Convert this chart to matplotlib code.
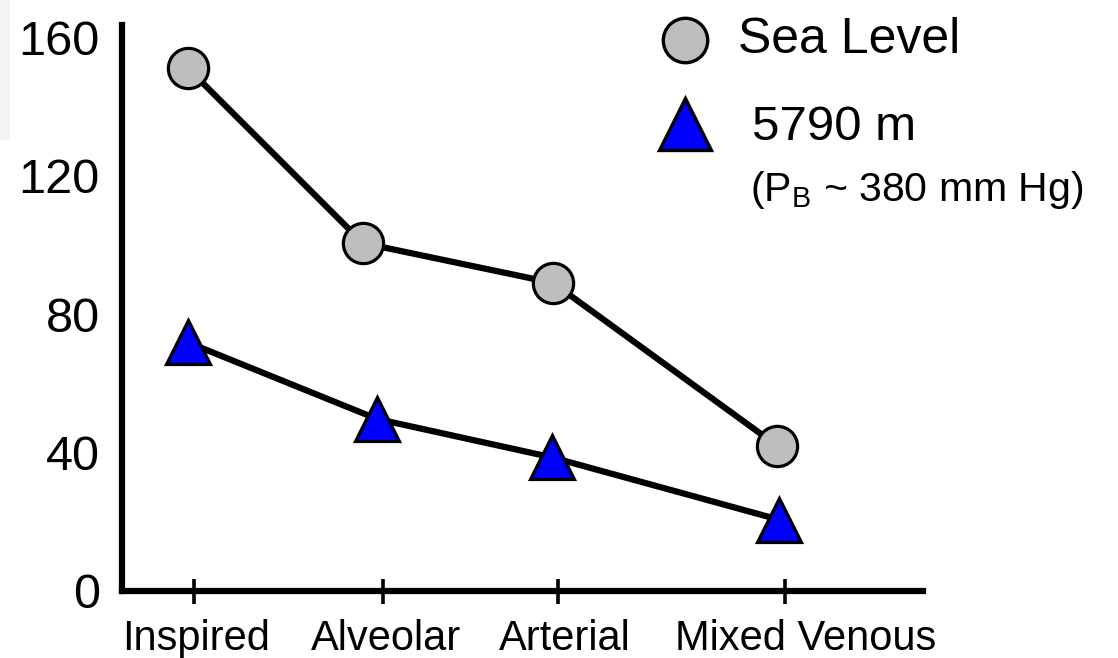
import matplotlib
matplotlib.use("Agg")
import matplotlib.pyplot as plt
import matplotlib.transforms as mtransforms
from matplotlib.lines import Line2D
from matplotlib.patches import Rectangle

# ---- data ----
categories = ["Inspired", "Alveolar", "Arterial", "Mixed Venous"]
cat_x = [0.72, 2.61, 4.36, 6.63]          # category tick positions
sea_x = [0.66, 2.41, 4.31, 6.55]
sea_level = [151, 100.5, 89, 42]
alt_x = [0.66, 2.55, 4.30, 6.57]
altitude_5790 = [71.8, 49.7, 38.6, 20.6]
y_ticks = [0, 40, 80, 120, 160]

plt.rcParams['font.family'] = ['Liberation Sans', 'DejaVu Sans']

W, H = 1118, 658
fig = plt.figure(figsize=(W / 100, H / 100), dpi=100)
ax = fig.add_axes([122 / W, 1 - 591 / H, (923 - 122) / W, (591 - 25) / H])

# faint grey artifact top-left
fig.add_artist(Rectangle((0, 1 - 140 / H), 10 / W, 140 / H, transform=fig.transFigure,
                         facecolor='#f3f3f3', edgecolor='none'))

ax.plot(sea_x, sea_level, color='black', lw=4.5, marker='o', markersize=29,
        markerfacecolor='#bebebe', markeredgecolor='black', markeredgewidth=2.3,
        clip_on=False, zorder=3)
ax.plot(alt_x, altitude_5790, color='black', lw=4.5, marker='^', markersize=31,
        markerfacecolor='#0000ff', markeredgecolor='black', markeredgewidth=2.3,
        clip_on=False, zorder=3)

ax.set_xlim(0, 8.01)
ax.set_ylim(0, 163.5)
ax.set_xticks(cat_x)
ax.set_xticklabels(categories, fontsize=30)
ax.set_yticks(y_ticks)
ax.set_yticklabels([str(v) for v in y_ticks], fontsize=35)

for s in ['top', 'right']:
    ax.spines[s].set_visible(False)
for s in ['left', 'bottom']:
    ax.spines[s].set_linewidth(4.5)
    ax.spines[s].set_capstyle('projecting')
ax.tick_params(axis='x', direction='inout', length=18, width=2.6, pad=11)
ax.tick_params(axis='y', length=0, pad=16)

# small horizontal shifts of the category labels (pixels) as in the original
label_shift_px = [2, 3, 7, 21]
for lab, dx in zip(ax.get_xticklabels(), label_shift_px):
    lab.set_transform(lab.get_transform() +
                      mtransforms.ScaledTranslation(dx / 100, 0, fig.dpi_scale_trans))

# ---- legend (manual) ----
def fx(px):
    return px / W

def fy(py):
    return 1 - py / H

fig.add_artist(Line2D([fx(685)], [fy(40)], transform=fig.transFigure, marker='o',
                      markersize=32, markerfacecolor='#bebebe', markeredgecolor='black',
                      markeredgewidth=2.4, linestyle='none'))
fig.add_artist(Line2D([fx(685)], [fy(124)], transform=fig.transFigure, marker='^',
                      markersize=38, markerfacecolor='#0000ff', markeredgecolor='black',
                      markeredgewidth=2.4, linestyle='none'))
fig.text(fx(738), fy(40), "Sea Level", fontsize=36, va='center', ha='left')
fig.text(fx(752), fy(128), "5790 m", fontsize=35.5, va='center', ha='left')
fig.text(fx(750), fy(190), r"(P$_\mathregular{B}$ ~ 380 mm Hg)", fontsize=29.5,
         va='center', ha='left')

fig.savefig("out.png", dpi=100)
